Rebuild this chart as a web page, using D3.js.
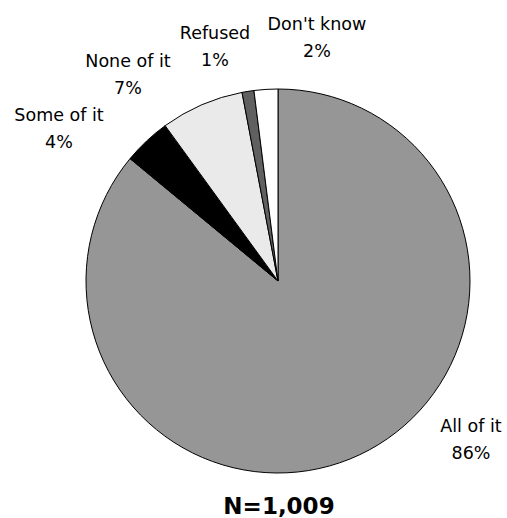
<!DOCTYPE html>
<html>
<head>
<meta charset="utf-8">
<script src="https://cdn.jsdelivr.net/npm/d3@7"></script>
<style>
  html, body { margin: 0; padding: 0; background: #fff; }
  svg { display: block; }
  text { font-family: "DejaVu Sans", Verdana, sans-serif; fill: #000; }
</style>
</head>
<body>
<svg id="chart" width="507" height="518"></svg>
<script>
// Survey responses, in clockwise order from 12 o'clock
const categories = ["All of it", "Some of it", "None of it", "Refused", "Don't know"];
const percents = [86, 4, 7, 1, 2];
const sliceColors = ["#969696", "#000000", "#eaeaea", "#606060", "#ffffff"];
// Label anchor positions (centre x, first baseline y)
const labelPos = [[471, 432], [59, 121], [128, 67], [215, 39], [317, 30]];
const sampleNote = "N=1,009";

const svg = d3.select("#chart");
const cx = 278, cy = 281, radius = 192;

const pie = d3.pie().sort(null).value(d => d.value);
const arc = d3.arc().innerRadius(0).outerRadius(radius);

const data = categories.map((c, i) => ({ name: c, value: percents[i], color: sliceColors[i], pos: labelPos[i] }));

const g = svg.append("g").attr("transform", `translate(${cx},${cy})`);
g.selectAll("path")
  .data(pie(data))
  .join("path")
  .attr("d", arc)
  .attr("fill", d => d.data.color)
  .attr("stroke", "#000")
  .attr("stroke-width", 1)
  .attr("stroke-linejoin", "round");

const labels = svg.selectAll("text.lbl")
  .data(data)
  .join("text")
  .attr("class", "lbl")
  .attr("text-anchor", "middle")
  .style("font-size", "17.5px");
labels.append("tspan")
  .attr("x", d => d.pos[0]).attr("y", d => d.pos[1])
  .text(d => d.name);
labels.append("tspan")
  .attr("x", d => d.pos[0]).attr("y", d => d.pos[1] + 27)
  .text(d => d.value + "%");

svg.append("text")
  .attr("x", 279).attr("y", 514)
  .attr("text-anchor", "middle")
  .style("font-size", "23px")
  .style("font-weight", "bold")
  .text(sampleNote);
</script>
</body>
</html>
